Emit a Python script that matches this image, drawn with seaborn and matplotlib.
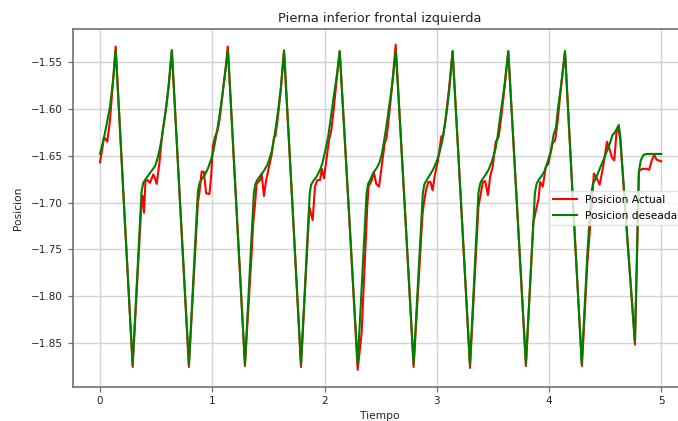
import matplotlib
matplotlib.use("Agg")
import matplotlib.pyplot as plt
import seaborn as sns
import pandas as pd

# ---- data ----
t_deseada = [0.000, 0.030, 0.060, 0.090, 0.120, 0.140, 0.215, 0.291, 0.370, 0.385, 0.400, 0.430, 0.460, 0.490,
             0.510, 0.530, 0.550, 0.570, 0.590, 0.610, 0.625, 0.640, 0.715, 0.792, 0.872, 0.885, 0.900, 0.930,
             0.960, 0.990, 1.010, 1.030, 1.050, 1.070, 1.090, 1.110, 1.125, 1.140, 1.215, 1.291, 1.370, 1.385,
             1.400, 1.430, 1.460, 1.490, 1.510, 1.530, 1.550, 1.570, 1.590, 1.610, 1.625, 1.640, 1.715, 1.790,
             1.868, 1.880, 1.900, 1.930, 1.960, 1.980, 2.000, 2.030, 2.055, 2.080, 2.110, 2.135, 2.215, 2.295,
             2.374, 2.388, 2.405, 2.435, 2.465, 2.490, 2.510, 2.530, 2.550, 2.570, 2.595, 2.615, 2.635, 2.715,
             2.793, 2.875, 2.890, 2.905, 2.935, 2.965, 2.995, 3.020, 3.045, 3.070, 3.090, 3.110, 3.125, 3.140,
             3.218, 3.295, 3.370, 3.385, 3.400, 3.430, 3.460, 3.490, 3.520, 3.540, 3.562, 3.585, 3.605, 3.620,
             3.636, 3.715, 3.793, 3.873, 3.888, 3.905, 3.930, 3.960, 3.990, 4.015, 4.040, 4.060, 4.080, 4.105,
             4.125, 4.141, 4.215, 4.290, 4.340, 4.375, 4.390, 4.420, 4.450, 4.495, 4.540, 4.563, 4.590, 4.620,
             4.632, 4.700, 4.764, 4.798, 4.815, 4.840, 4.870, 4.998]
pos_deseada = [-1.648, -1.634, -1.616, -1.597, -1.566, -1.537, -1.705, -1.873, -1.689, -1.679, -1.676, -1.671, -1.666, -1.661,
               -1.654, -1.644, -1.631, -1.615, -1.597, -1.576, -1.557, -1.537, -1.705, -1.873, -1.688, -1.680, -1.676, -1.671,
               -1.664, -1.654, -1.645, -1.632, -1.618, -1.602, -1.585, -1.566, -1.552, -1.537, -1.705, -1.873, -1.690, -1.680,
               -1.676, -1.671, -1.666, -1.660, -1.653, -1.645, -1.632, -1.616, -1.598, -1.578, -1.558, -1.537, -1.705, -1.873,
               -1.690, -1.681, -1.677, -1.672, -1.665, -1.658, -1.648, -1.631, -1.610, -1.588, -1.563, -1.538, -1.706, -1.873,
               -1.690, -1.680, -1.676, -1.668, -1.663, -1.657, -1.648, -1.634, -1.619, -1.602, -1.580, -1.560, -1.538, -1.706,
               -1.873, -1.690, -1.680, -1.677, -1.671, -1.665, -1.657, -1.648, -1.636, -1.618, -1.601, -1.580, -1.560, -1.538,
               -1.706, -1.873, -1.690, -1.680, -1.676, -1.671, -1.665, -1.656, -1.644, -1.630, -1.610, -1.590, -1.572, -1.556,
               -1.538, -1.706, -1.873, -1.690, -1.680, -1.676, -1.672, -1.666, -1.655, -1.645, -1.627, -1.620, -1.598, -1.576,
               -1.556, -1.538, -1.706, -1.873, -1.755, -1.690, -1.680, -1.673, -1.664, -1.651, -1.637, -1.628, -1.624, -1.617,
               -1.628, -1.745, -1.849, -1.668, -1.655, -1.649, -1.648, -1.648]

t_actual = [0.000, 0.020, 0.035, 0.050, 0.065, 0.090, 0.110, 0.140, 0.215, 0.291, 0.370, 0.380, 0.392, 0.405,
            0.425, 0.445, 0.475, 0.490, 0.505, 0.530, 0.545, 0.560, 0.590, 0.612, 0.640, 0.715, 0.792, 0.872,
            0.885, 0.905, 0.925, 0.945, 0.975, 0.990, 1.005, 1.024, 1.050, 1.070, 1.100, 1.120, 1.138, 1.215,
            1.291, 1.350, 1.365, 1.380, 1.395, 1.425, 1.440, 1.460, 1.480, 1.500, 1.530, 1.550, 1.562, 1.580,
            1.610, 1.638, 1.715, 1.790, 1.865, 1.894, 1.915, 1.935, 1.960, 1.975, 1.995, 2.010, 2.040, 2.060,
            2.080, 2.110, 2.135, 2.215, 2.295, 2.330, 2.360, 2.380, 2.392, 2.420, 2.440, 2.460, 2.485, 2.510,
            2.535, 2.552, 2.570, 2.600, 2.633, 2.715, 2.793, 2.872, 2.885, 2.903, 2.924, 2.943, 2.962, 2.980,
            3.010, 3.040, 3.055, 3.080, 3.110, 3.140, 3.218, 3.295, 3.370, 3.384, 3.410, 3.430, 3.455, 3.475,
            3.497, 3.524, 3.550, 3.570, 3.600, 3.636, 3.715, 3.793, 3.859, 3.883, 3.904, 3.920, 3.943, 3.970,
            3.994, 4.015, 4.030, 4.054, 4.074, 4.105, 4.141, 4.215, 4.292, 4.340, 4.378, 4.398, 4.420, 4.450,
            4.480, 4.515, 4.535, 4.560, 4.580, 4.600, 4.614, 4.632, 4.700, 4.764, 4.800, 4.830, 4.866, 4.890,
            4.914, 4.935, 4.956, 4.998]
pos_actual = [-1.657, -1.643, -1.630, -1.632, -1.635, -1.611, -1.580, -1.533, -1.705, -1.876, -1.700, -1.693, -1.711, -1.677,
              -1.676, -1.679, -1.670, -1.674, -1.680, -1.657, -1.638, -1.622, -1.598, -1.576, -1.537, -1.705, -1.876, -1.700,
              -1.690, -1.667, -1.667, -1.690, -1.691, -1.672, -1.640, -1.630, -1.622, -1.607, -1.575, -1.555, -1.533, -1.705,
              -1.875, -1.755, -1.721, -1.703, -1.680, -1.676, -1.669, -1.693, -1.676, -1.665, -1.648, -1.630, -1.629, -1.613,
              -1.580, -1.538, -1.705, -1.876, -1.705, -1.719, -1.683, -1.676, -1.676, -1.664, -1.674, -1.660, -1.633, -1.623,
              -1.602, -1.566, -1.538, -1.706, -1.879, -1.840, -1.760, -1.705, -1.683, -1.676, -1.668, -1.680, -1.683, -1.660,
              -1.637, -1.631, -1.612, -1.577, -1.531, -1.706, -1.876, -1.713, -1.700, -1.687, -1.678, -1.678, -1.687, -1.672,
              -1.655, -1.629, -1.630, -1.608, -1.576, -1.538, -1.706, -1.877, -1.705, -1.695, -1.678, -1.677, -1.692, -1.672,
              -1.662, -1.635, -1.630, -1.612, -1.580, -1.538, -1.706, -1.875, -1.722, -1.708, -1.697, -1.678, -1.683, -1.662,
              -1.658, -1.646, -1.637, -1.633, -1.615, -1.577, -1.538, -1.706, -1.875, -1.765, -1.705, -1.669, -1.673, -1.681,
              -1.662, -1.635, -1.642, -1.652, -1.655, -1.624, -1.622, -1.630, -1.745, -1.852, -1.666, -1.664, -1.664, -1.665,
              -1.655, -1.649, -1.654, -1.656]

x_ticks = [0, 1, 2, 3, 4, 5]
y_ticks = [-1.85, -1.80, -1.75, -1.70, -1.65, -1.60, -1.55]
titulo = "Pierna inferior frontal izquierda"
etiqueta_x = "Tiempo"
etiqueta_y = "Posicion"
serie_actual = "Posicion Actual"
serie_deseada = "Posicion deseada"

df_act = pd.DataFrame({"t": t_actual, "pos": pos_actual})
df_des = pd.DataFrame({"t": t_deseada, "pos": pos_deseada})

plt.rcParams["font.family"] = ["DejaVu Sans"]
fig = plt.figure(figsize=(6.78, 4.21), dpi=100)
# axes extends past the right edge, like the cropped reference
ax = fig.add_axes([0.1072, 0.0815, 0.906, 0.8496])

sns.lineplot(data=df_act, x="t", y="pos", ax=ax, color="#ff0000", linewidth=1.5,
             estimator=None, sort=False, label=serie_actual)
sns.lineplot(data=df_des, x="t", y="pos", ax=ax, color="#008000", linewidth=1.5,
             estimator=None, sort=False, label=serie_deseada)

ax.set_xlim(-0.243, 5.227)
ax.set_ylim(-1.8971, -1.5143)
ax.set_xticks(x_ticks)
ax.set_xticklabels([str(v) for v in x_ticks])
ax.set_yticks(y_ticks)
ax.set_yticklabels(["\u2212%.2f" % abs(v) for v in y_ticks])
ax.grid(True, color="#d4d4d4", linewidth=1.0)
ax.set_axisbelow(True)
for s in ax.spines.values():
    s.set_color("#707070")
    s.set_linewidth(1.2)
ax.tick_params(labelsize=7.5, colors="#222222", length=3.5, width=0.9)
ax.tick_params(color="#707070")
ax.set_title(titulo, fontsize=9.4, color="#222222", pad=5)
ax.set_xlabel(etiqueta_x, fontsize=7.7, color="#222222", labelpad=3)
ax.set_ylabel(etiqueta_y, fontsize=7.7, color="#222222", labelpad=6)
leg = ax.legend(loc="center right", fontsize=7.7, frameon=True, handlelength=2.2,
                borderpad=0.4, labelspacing=0.5)
leg.get_frame().set_edgecolor("#dddddd")

fig.savefig("out.png", dpi=100)
